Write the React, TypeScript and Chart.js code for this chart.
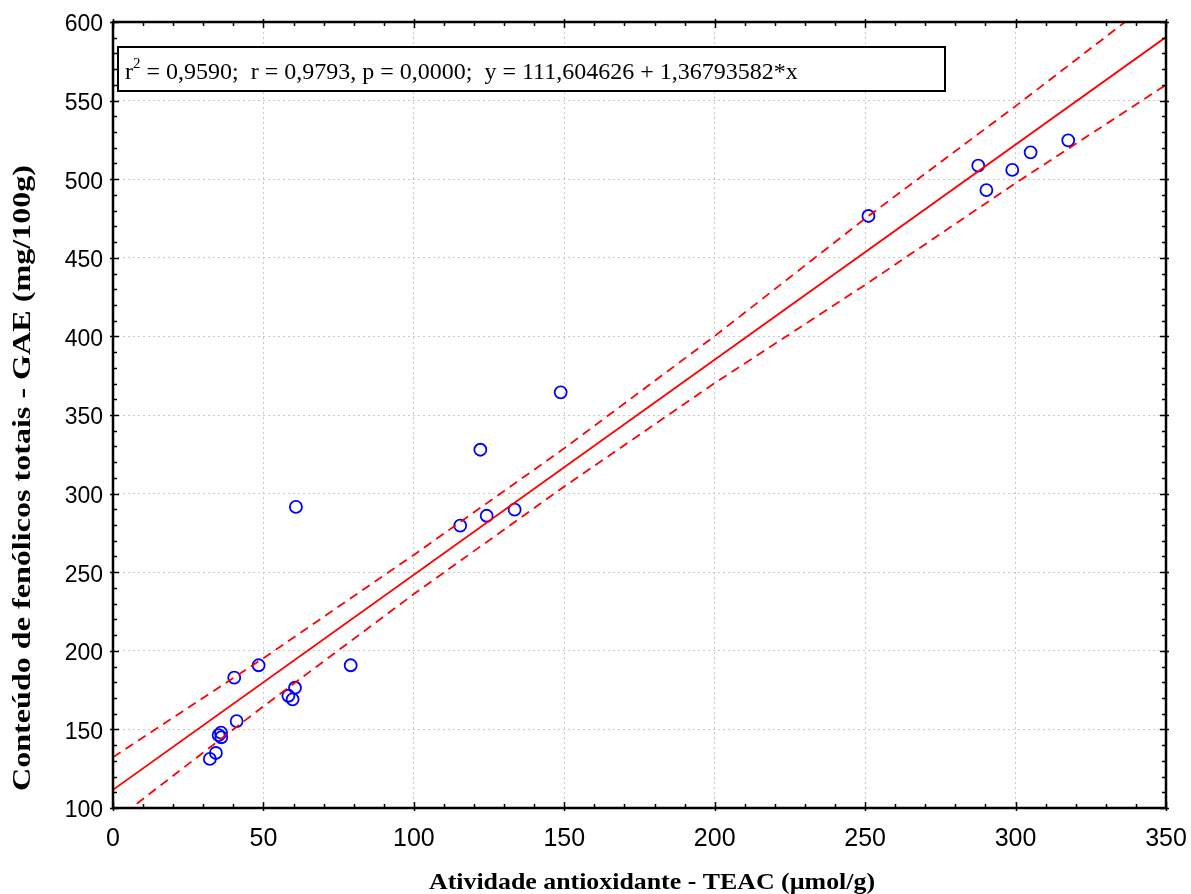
import React, { useEffect, useRef } from "react";
import { Chart, registerables } from "chart.js";

Chart.register(...registerables);

const pointsX = [32.2, 34.2, 35.1, 35.9, 36.0, 40.3, 41.1, 48.4, 58.3, 60.5, 59.7, 79.0, 60.8, 115.4, 124.2, 133.5, 122.1, 148.8, 251.1, 287.6, 290.3, 298.9, 305.0, 317.5];
const pointsY = [131.2, 135.0, 146.4, 147.9, 145.0, 182.9, 155.3, 190.8, 171.4, 176.5, 169.1, 190.8, 291.5, 279.6, 285.9, 289.8, 327.9, 364.4, 476.6, 508.6, 493.1, 505.9, 517.1, 524.7];

const regX = [0, 350];
const regY = [111.6, 590.4];

const bandX = [0, 50, 100, 150, 200, 250, 300, 350];
const upperY = [132.3, 195.3, 261.0, 328.8, 400.2, 475.0, 546.5, 620.0];
const lowerY = [91.1, 164.7, 236.1, 304.5, 370.3, 432.8, 497.5, 560.0];

const xTicks = [0, 50, 100, 150, 200, 250, 300, 350];
const yTicks = [100, 150, 200, 250, 300, 350, 400, 450, 500, 550, 600];

const xTitle = "Atividade antioxidante - TEAC (µmol/g)";
const yTitle = "Conteúdo de fenólicos totais - GAE (mg/100g)";
const statsPre = "r";
const statsSup = "2";
const statsText = " = 0,9590;  r = 0,9793, p = 0,0000;  y = 111,604626 + 1,36793582*x";

const zip = (xs: number[], ys: number[]) => xs.map((x, i) => ({ x, y: ys[i] }));

const framePlugin = {
  id: "frame",
  afterDraw(chart: any) {
    const { ctx, chartArea: a, scales } = chart;
    const xs = scales.x;
    const ys = scales.y;
    ctx.save();
    ctx.strokeStyle = "#000";
    ctx.lineWidth = 1.5;
    for (let v = 0; v <= 350; v += 10) {
      const px = Math.round(xs.getPixelForValue(v)) + 0.5;
      const major = v % 50 === 0;
      const len = major ? 6 : 4;
      ctx.beginPath();
      ctx.moveTo(px, a.bottom + (major ? 3 : 0));
      ctx.lineTo(px, a.bottom - len);
      ctx.moveTo(px, a.top - (major ? 3 : 0));
      ctx.lineTo(px, a.top + len);
      ctx.stroke();
    }
    for (let v = 100; v <= 600; v += 10) {
      const py = Math.round(ys.getPixelForValue(v)) + 0.5;
      const major = v % 50 === 0;
      const len = major ? 6 : 4;
      ctx.beginPath();
      ctx.moveTo(a.left - (major ? 3 : 0), py);
      ctx.lineTo(a.left + len, py);
      ctx.moveTo(a.right + (major ? 3 : 0), py);
      ctx.lineTo(a.right - len, py);
      ctx.stroke();
    }
    ctx.lineWidth = 2.5;
    ctx.strokeRect(a.left, a.top, a.right - a.left, a.bottom - a.top);

    // stats box
    ctx.fillStyle = "#fff";
    ctx.fillRect(118, 47, 827, 44);
    ctx.lineWidth = 2;
    ctx.strokeStyle = "#000";
    ctx.strokeRect(118, 47, 827, 44);
    ctx.fillStyle = "#000";
    ctx.textBaseline = "alphabetic";
    ctx.textAlign = "left";
    ctx.font = "24px 'Liberation Serif'";
    ctx.fillText(statsPre, 125, 79);
    const w1 = ctx.measureText(statsPre).width;
    ctx.font = "15px 'Liberation Serif'";
    ctx.fillText(statsSup, 125 + w1, 68);
    const w2 = ctx.measureText(statsSup).width;
    ctx.font = "24px 'Liberation Serif'";
    ctx.fillText(statsText, 125 + w1 + w2, 79);

    // x title
    ctx.font = "bold 24px 'Liberation Serif'";
    ctx.textAlign = "center";
    const xw = ctx.measureText(xTitle).width;
    ctx.save();
    ctx.translate(652, 889);
    ctx.scale(446 / xw, 1);
    ctx.fillText(xTitle, 0, 0);
    ctx.restore();

    // y title
    ctx.font = "bold 25px 'Liberation Serif'";
    const yw = ctx.measureText(yTitle).width;
    ctx.save();
    ctx.translate(30, 478);
    ctx.rotate(-Math.PI / 2);
    ctx.scale(626 / yw, 1);
    ctx.fillText(yTitle, 0, 0);
    ctx.restore();
    ctx.restore();
  },
};

export default function App() {
  const ref = useRef<HTMLCanvasElement>(null);
  useEffect(() => {
    if (!ref.current) return;
    const chart = new Chart(ref.current, {
      type: "scatter",
      data: {
        datasets: [
          {
            label: "upper",
            data: zip(bandX, upperY),
            showLine: true,
            borderColor: "#ff0000",
            borderWidth: 1.8,
            borderDash: [9, 6],
            pointRadius: 0,
            fill: false,
          },
          {
            label: "lower",
            data: zip(bandX, lowerY),
            showLine: true,
            borderColor: "#ff0000",
            borderWidth: 1.8,
            borderDash: [9, 6],
            pointRadius: 0,
            fill: false,
          },
          {
            label: "reg",
            data: zip(regX, regY),
            showLine: true,
            borderColor: "#ff0000",
            borderWidth: 1.8,
            pointRadius: 0,
            fill: false,
          },
          {
            label: "data",
            data: zip(pointsX, pointsY),
            showLine: false,
            pointRadius: 6,
            pointBorderWidth: 1.8,
            pointBorderColor: "#0000ff",
            pointBackgroundColor: "rgba(0,0,0,0)",
            pointStyle: "circle",
          },
        ],
      },
      options: {
        animation: false,
        responsive: false,
        devicePixelRatio: 1,
        layout: { padding: { top: 22, right: 25, left: 0, bottom: 0 } },
        plugins: { legend: { display: false }, tooltip: { enabled: false } },
        scales: {
          x: {
            type: "linear",
            min: 0,
            max: 350,
            afterFit: (s: any) => { s.height = 86; s.paddingRight = 0; s.paddingLeft = 0; },
            afterBuildTicks: (s: any) => { s.ticks = xTicks.map((v) => ({ value: v })); },
            grid: { color: "#c8c8c8", lineWidth: 1, drawTicks: false },
            border: { display: false, dash: [2, 3] },
            ticks: {
              font: { family: "'Liberation Sans'", size: 25 },
              color: "#000",
              padding: 16,
              maxRotation: 0,
            },
          },
          y: {
            type: "linear",
            min: 100,
            max: 600,
            afterFit: (s: any) => { s.width = 113; s.paddingTop = 0; s.paddingBottom = 0; },
            afterBuildTicks: (s: any) => { s.ticks = yTicks.map((v) => ({ value: v })); },
            grid: { color: "#c8c8c8", lineWidth: 1, drawTicks: false },
            border: { display: false, dash: [2, 3] },
            ticks: {
              font: { family: "'Liberation Sans'", size: 23 },
              color: "#000",
              padding: 10,
              labelOffset: 3,
            },
          },
        },
      },
      plugins: [framePlugin],
    });
    return () => chart.destroy();
  }, []);
  return (
    <div style={{ position: "absolute", left: 0, top: 0, width: 1191, height: 894, background: "#fff" }}>
      <canvas ref={ref} width={1191} height={894} />
    </div>
  );
}
